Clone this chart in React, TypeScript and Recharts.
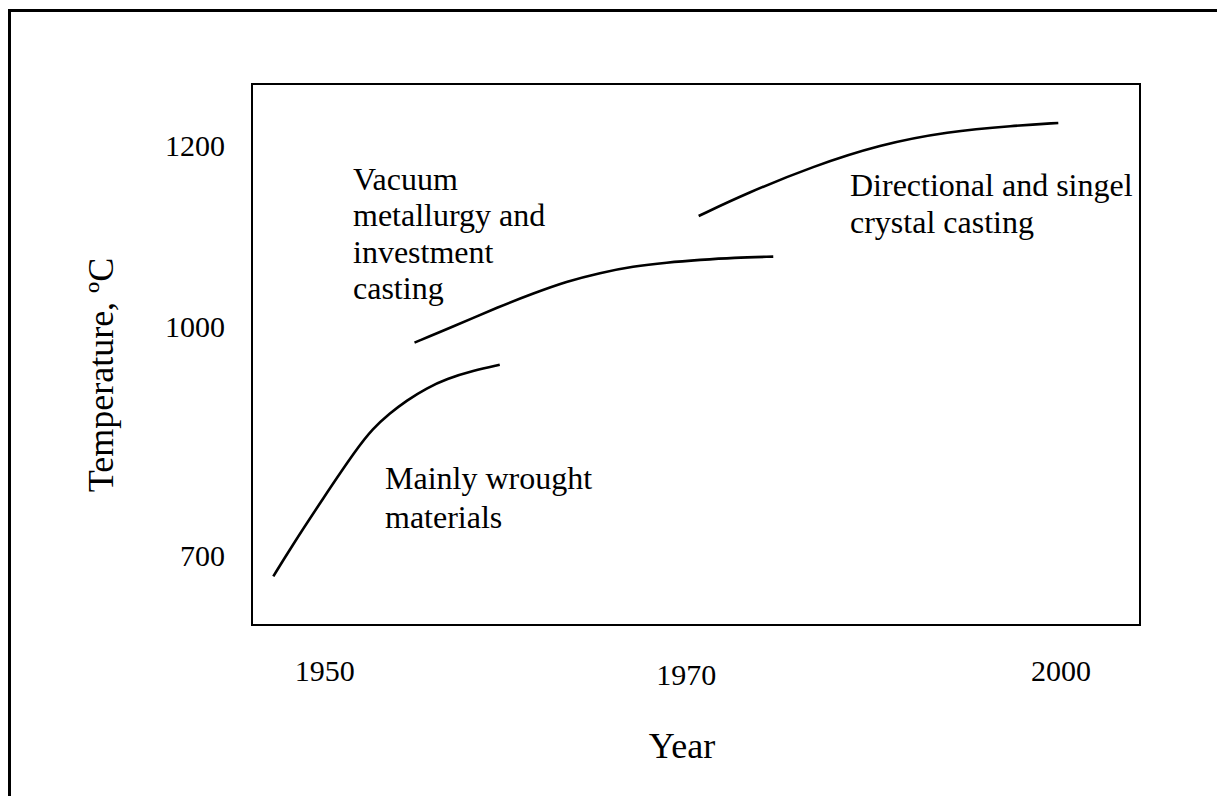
// Superalloy service temperature vs year — schematic line chart

import React from 'react';
import { LineChart, Line, XAxis, YAxis, ReferenceArea } from 'recharts';

// ── data (schematic units, 0–100 on both axes) ──

const X_TICK_POS = [8.2, 48.9, 91.1];
const X_TICK_LABELS = ['1950', '1970', '2000'];

const Y_TICK_POS = [12.9, 55.3, 88.8];
const Y_TICK_LABELS = ['700', '1000', '1200'];

const WROUGHT = [
  { x: 2.4, y: 9.0 },
  { x: 4.3, y: 14.1 },
  { x: 8.0, y: 23.4 },
  { x: 11.8, y: 32.6 },
  { x: 13.6, y: 36.3 },
  { x: 15.5, y: 39.1 },
  { x: 17.4, y: 41.5 },
  { x: 19.7, y: 43.8 },
  { x: 21.9, y: 45.5 },
  { x: 24.9, y: 47.0 },
  { x: 27.9, y: 48.1 },
];

const VACUUM = [
  { x: 18.3, y: 52.2 },
  { x: 22.3, y: 54.9 },
  { x: 27.9, y: 58.9 },
  { x: 31.7, y: 61.3 },
  { x: 35.4, y: 63.5 },
  { x: 39.2, y: 65.1 },
  { x: 42.9, y: 66.3 },
  { x: 46.7, y: 67.0 },
  { x: 50.5, y: 67.5 },
  { x: 54.2, y: 67.9 },
  { x: 58.7, y: 68.1 },
];

const DIRECTIONAL = [
  { x: 50.3, y: 75.6 },
  { x: 55.7, y: 79.8 },
  { x: 63.2, y: 84.8 },
  { x: 70.7, y: 88.8 },
  { x: 78.3, y: 91.2 },
  { x: 85.8, y: 92.3 },
  { x: 90.8, y: 92.8 },
];

const VACUUM_NOTE = ['Vacuum', 'metallurgy and', 'investment', 'casting'];
const WROUGHT_NOTE = ['Mainly wrought', 'materials'];
const DIRECTIONAL_NOTE = ['Directional and singel', 'crystal casting'];

// ── style ──

const FONT = '"Liberation Serif", "Times New Roman", serif';
const X_TICK_DROP: Record<string, number> = { '1970': 4 };

function XTick(props: any): React.JSX.Element {
  const { x, y, payload } = props;
  const i = X_TICK_POS.indexOf(payload.value);
  const label = X_TICK_LABELS[i] ?? '';
  return (
    <text x={x} y={y + 54 + (X_TICK_DROP[label] ?? 0)} textAnchor="middle"
      fontFamily={FONT} fontSize={30} fill="#000">
      {label}
    </text>
  );
}

function YTick(props: any): React.JSX.Element {
  const { x, y, payload } = props;
  const i = Y_TICK_POS.indexOf(payload.value);
  return (
    <text x={x - 25} y={y + 11} textAnchor="end" fontFamily={FONT} fontSize={30} fill="#000">
      {Y_TICK_LABELS[i] ?? ''}
    </text>
  );
}

function Note({ lines, x, y, gap }: { lines: string[]; x: number; y: number; gap: number }) {
  return (
    <text fontFamily={FONT} fontSize={32} fill="#000">
      {lines.map((l, i) => (
        <tspan key={l} x={x} y={y + i * gap}>{l}</tspan>
      ))}
    </text>
  );
}

export default function App(): React.JSX.Element {
  return (
    <div style={{ position: 'relative', width: 1217, height: 796, overflow: 'hidden', background: '#fff' }}>
      <style>{'body{margin:0;overflow:hidden}'}</style>
      <div
        style={{
          position: 'absolute', left: 8, top: 9, width: 1400, height: 1000,
          borderTop: '3px solid #000', borderLeft: '3px solid #000',
        }}
      />
      <div style={{ position: 'absolute', left: 0, top: 0 }}>
        <LineChart width={1217} height={796} margin={{ top: 84, right: 77, bottom: 71, left: 52 }}>
          <XAxis type="number" dataKey="x" domain={[0, 100]} ticks={X_TICK_POS}
            tick={<XTick />} tickLine={false} axisLine={false} height={100} tickSize={0} />
          <YAxis type="number" dataKey="y" domain={[0, 100]} ticks={Y_TICK_POS}
            tick={<YTick />} tickLine={false} axisLine={false} width={200} tickSize={0} />
          <ReferenceArea x1={0} x2={100} y1={0} y2={100} fill="none" fillOpacity={0}
            stroke="#000" strokeWidth={2} strokeOpacity={1} />
          <Line data={WROUGHT} dataKey="y" type="basis" stroke="#000" strokeWidth={2.6}
            dot={false} isAnimationActive={false} />
          <Line data={VACUUM} dataKey="y" type="basis" stroke="#000" strokeWidth={2.6}
            dot={false} isAnimationActive={false} />
          <Line data={DIRECTIONAL} dataKey="y" type="basis" stroke="#000" strokeWidth={2.6}
            dot={false} isAnimationActive={false} />
        </LineChart>
      </div>
      <svg width={1217} height={796} style={{ position: 'absolute', left: 0, top: 0, pointerEvents: 'none' }}>
        <Note lines={VACUUM_NOTE} x={353} y={190} gap={36.3} />
        <Note lines={WROUGHT_NOTE} x={385} y={489} gap={39} />
        <Note lines={DIRECTIONAL_NOTE} x={850} y={196} gap={37} />
        <text x={682} y={758} textAnchor="middle" fontFamily={FONT} fontSize={36} fill="#000">Year</text>
        <text x={113} y={375} textAnchor="middle" fontFamily={FONT} fontSize={36} fill="#000"
          transform="rotate(-90 113 375)">
          Temperature, ºC
        </text>
      </svg>
    </div>
  );
}
